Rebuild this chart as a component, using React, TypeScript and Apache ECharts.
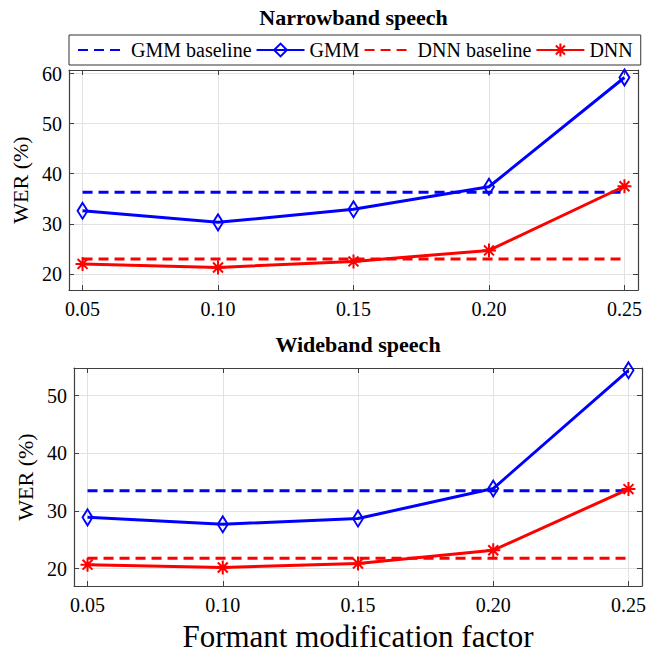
import React, { useEffect, useRef } from "react";
import * as echarts from "echarts";

const xValues = [0.05, 0.1, 0.15, 0.2, 0.25];
const xTicks = [0.05, 0.1, 0.15, 0.2, 0.25];

const nbGMM = [32.6, 30.3, 32.9, 37.4, 59.2];
const nbDNN = [22.0, 21.3, 22.5, 24.7, 37.5];
const nbGMMBaseline = 36.3;
const nbDNNBaseline = 23.0;
const nbYTicks = [20, 30, 40, 50, 60];

const wbGMM = [28.9, 27.7, 28.7, 33.9, 54.4];
const wbDNN = [20.7, 20.2, 20.9, 23.2, 33.8];
const wbGMMBaseline = 33.5;
const wbDNNBaseline = 21.8;
const wbYTicks = [20, 30, 40, 50];

const FONT = "Liberation Serif";
const BLUE = "#0000ff";
const RED = "#ff0000";
const AXIS = "#404040";
const GRIDC = "#e2e2e2";
const DASH = [10, 6];
const ASTERISK = "path://M0,-10L0,10M-10,0L10,0M-7.1,-7.1L7.1,7.1M-7.1,7.1L7.1,-7.1";

function pairs(ys: number[]) {
  return xValues.map((x, i) => [x, ys[i]]);
}
function baseline(v: number) {
  return [
    [xValues[0], v],
    [xValues[xValues.length - 1], v],
  ];
}

export default function App() {
  const ref = useRef<HTMLDivElement>(null);
  useEffect(() => {
    document.body.style.margin = "0";
    const chart = echarts.init(ref.current!, null, { renderer: "svg" });

    const xAxisBase = (gridIndex: number, name?: string) => ({
      type: "value",
      gridIndex,
      min: 0.045,
      max: 0.255,
      name: name || "",
      nameLocation: "middle",
      nameGap: 35,
      nameTextStyle: { fontFamily: FONT, fontSize: 31, color: "#000" },
      axisLine: { show: true, lineStyle: { color: AXIS, width: 1.2 } },
      axisTick: { show: true, inside: true, length: 5, customValues: xTicks, lineStyle: { color: AXIS } },
      axisLabel: {
        show: true,
        customValues: xTicks,
        margin: 9,
        fontFamily: FONT,
        fontSize: 20,
        color: "#000",
        formatter: (v: number) => v.toFixed(2),
      },
      splitLine: { show: true, lineStyle: { color: GRIDC, width: 1 } },
    });
    const xAxisTop = (gridIndex: number) => ({
      type: "value",
      gridIndex,
      position: "top",
      min: 0.045,
      max: 0.255,
      axisLine: { show: true, lineStyle: { color: AXIS, width: 1.2 } },
      axisTick: { show: true, inside: true, length: 5, customValues: xTicks, lineStyle: { color: AXIS } },
      axisLabel: { show: false },
      splitLine: { show: false },
    });
    const yAxisBase = (gridIndex: number, min: number, max: number, ticks: number[]) => ({
      type: "value",
      gridIndex,
      min,
      max,
      name: "WER (%)",
      nameLocation: "middle",
      nameGap: 38,
      nameTextStyle: { fontFamily: FONT, fontSize: 22, color: "#000" },
      axisLine: { show: true, lineStyle: { color: AXIS, width: 1.2 } },
      axisTick: { show: true, inside: true, length: 5, customValues: ticks, lineStyle: { color: AXIS } },
      axisLabel: { show: true, customValues: ticks, margin: 7, fontFamily: FONT, fontSize: 20, color: "#000" },
      splitLine: { show: true, lineStyle: { color: GRIDC, width: 1 } },
    });
    const yAxisRight = (gridIndex: number, min: number, max: number, ticks: number[]) => ({
      type: "value",
      gridIndex,
      position: "right",
      min,
      max,
      axisLine: { show: true, lineStyle: { color: AXIS, width: 1.2 } },
      axisTick: { show: true, inside: true, length: 5, customValues: ticks, lineStyle: { color: AXIS } },
      axisLabel: { show: false },
      splitLine: { show: false },
    });

    const mkSeries = (axisIdx: number, gmm: number[], dnn: number[], gb: number, db: number) => [
      {
        name: "GMM baseline",
        type: "line",
        xAxisIndex: axisIdx,
        yAxisIndex: axisIdx,
        data: baseline(gb),
        symbol: "rect",
        showSymbol: false,
        lineStyle: { color: BLUE, width: 3, type: DASH },
        itemStyle: { color: "rgba(0,0,0,0)", borderWidth: 0 },
      },
      {
        name: "GMM",
        type: "line",
        xAxisIndex: axisIdx,
        yAxisIndex: axisIdx,
        data: pairs(gmm),
        symbol: "diamond",
        symbolSize: [10, 16],
        lineStyle: { color: BLUE, width: 3 },
        itemStyle: { color: "rgba(255,255,255,0)", borderColor: BLUE, borderWidth: 2 },
      },
      {
        name: "DNN baseline",
        type: "line",
        xAxisIndex: axisIdx,
        yAxisIndex: axisIdx,
        data: baseline(db),
        symbol: "rect",
        showSymbol: false,
        lineStyle: { color: RED, width: 3, type: DASH },
        itemStyle: { color: "rgba(0,0,0,0)", borderWidth: 0 },
      },
      {
        name: "DNN",
        type: "line",
        xAxisIndex: axisIdx,
        yAxisIndex: axisIdx,
        data: pairs(dnn),
        symbol: ASTERISK,
        symbolSize: 14,
        lineStyle: { color: RED, width: 3 },
        itemStyle: { color: RED, borderColor: RED, borderWidth: 2 },
      },
    ];

    chart.setOption({
      animation: false,
      backgroundColor: "#fff",
      textStyle: { fontFamily: FONT },
      graphic: [
        {
          type: "text",
          x: 353.5,
          y: 6,
          style: { text: "Narrowband speech", fontFamily: FONT, fontWeight: "bold", fontSize: 22, textAlign: "center", textVerticalAlign: "top", fill: "#000" },
        },
        {
          type: "text",
          x: 358,
          y: 333,
          style: { text: "Wideband speech", fontFamily: FONT, fontWeight: "bold", fontSize: 22, textAlign: "center", textVerticalAlign: "top", fill: "#000" },
        },
      ],
      legend: {
        left: 69,
        top: 35,
        width: 620,
        padding: [5, 8, 5, 8],
        itemGap: 4,
        itemWidth: 48,
        itemHeight: 16,
        borderColor: "#333",
        borderWidth: 1,
        backgroundColor: "#fff",
        textStyle: { fontFamily: FONT, fontSize: 20, color: "#000" },
        data: ["GMM baseline", "GMM", "DNN baseline", "DNN"],
      },
      grid: [
        { left: 69, top: 70, width: 569, height: 220, containLabel: false },
        { left: 74, top: 368, width: 568, height: 218, containLabel: false },
      ],
      xAxis: [xAxisBase(0), xAxisBase(1, "Formant modification factor"), xAxisTop(0), xAxisTop(1)],
      yAxis: [
        yAxisBase(0, 16.8, 60.7, nbYTicks),
        yAxisBase(1, 17, 54.8, wbYTicks),
        yAxisRight(0, 16.8, 60.7, nbYTicks),
        yAxisRight(1, 17, 54.8, wbYTicks),
      ],
      series: [
        ...mkSeries(0, nbGMM, nbDNN, nbGMMBaseline, nbDNNBaseline),
        ...mkSeries(1, wbGMM, wbDNN, wbGMMBaseline, wbDNNBaseline),
      ],
    });
    return () => chart.dispose();
  }, []);
  return <div ref={ref} style={{ position: "absolute", left: 0, top: 0, width: 649, height: 657 }} />;
}
